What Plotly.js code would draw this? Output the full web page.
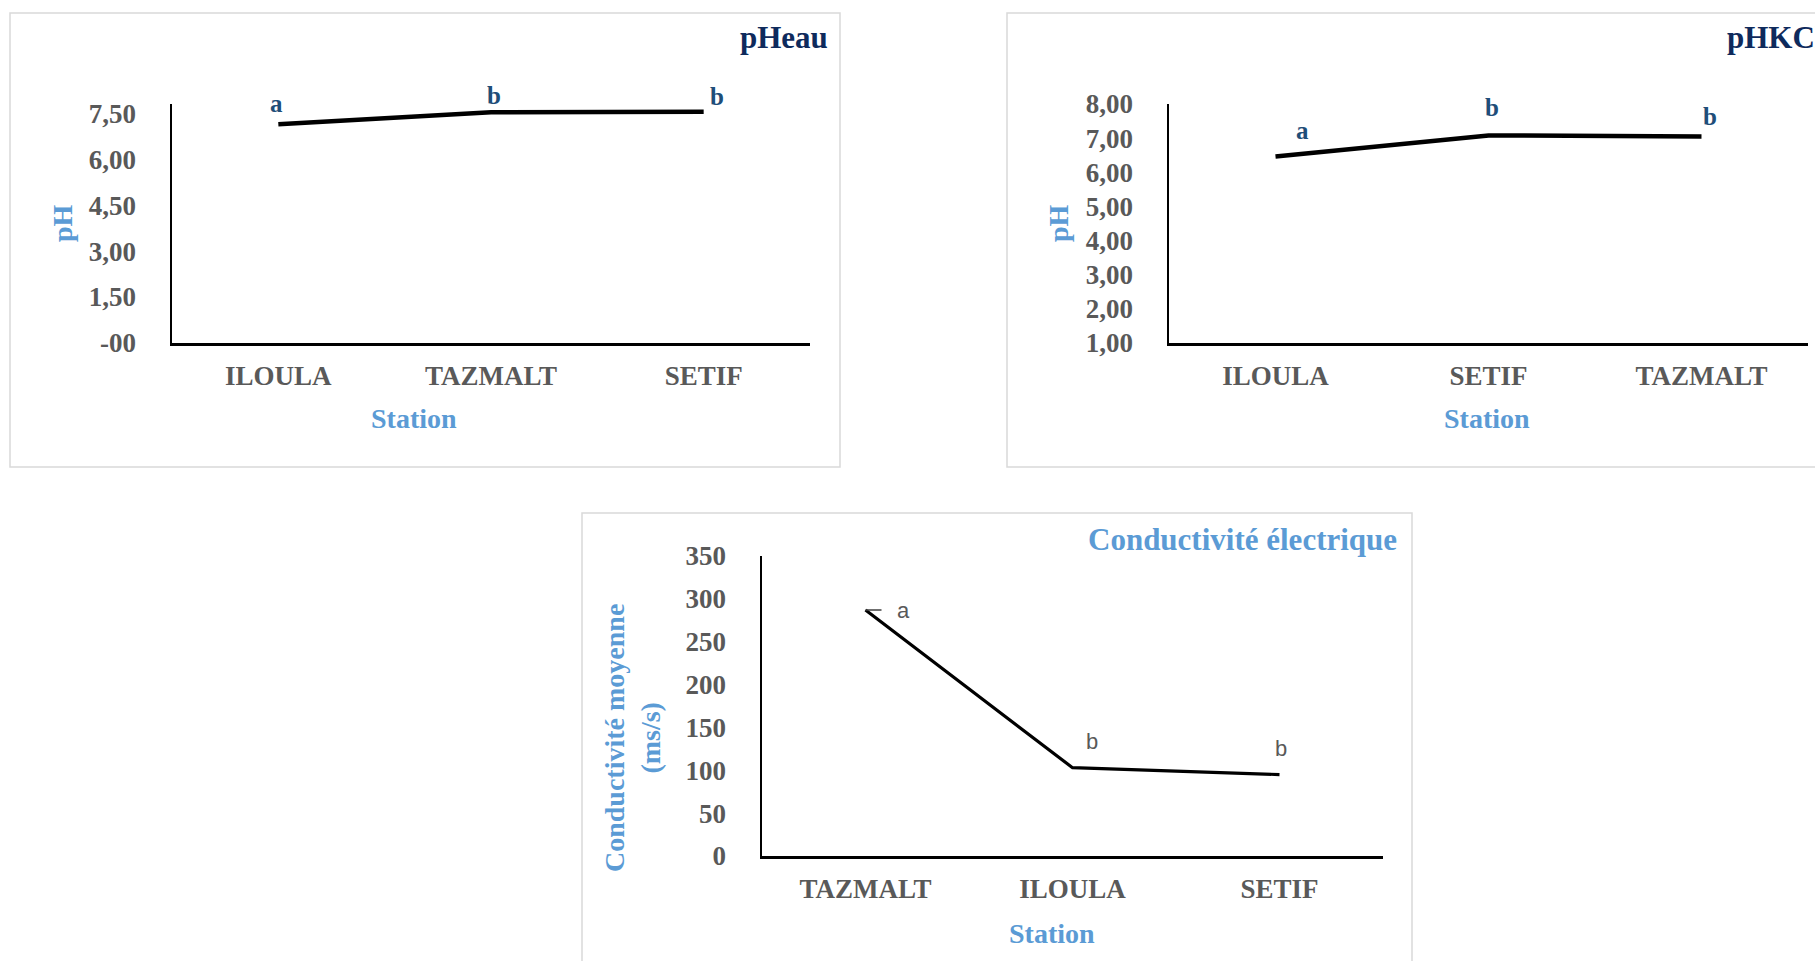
<!DOCTYPE html>
<html>
<head>
<meta charset="utf-8">
<script src="https://cdn.plot.ly/plotly-3.0.1.min.js"></script>
<style>
  html, body { margin: 0; padding: 0; background: #ffffff; }
  #chart { width: 1815px; height: 961px; }
</style>
</head>
<body>
<div id="chart"></div>
<script>
// pH (eau) par station
const stationsEau = ['ILOULA', 'TAZMALT', 'SETIF'];
const phEau = [7.14, 7.53, 7.55];
const groupesEau = ['a', 'b', 'b'];
const ticksEau = [0, 1.5, 3, 4.5, 6, 7.5];
const tickTextEau = ['-00', '1,50', '3,00', '4,50', '6,00', '7,50'];

// pH (KCl) par station
const stationsKcl = ['ILOULA', 'SETIF', 'TAZMALT'];
const phKcl = [6.46, 7.08, 7.05];
const groupesKcl = ['a', 'b', 'b'];
const ticksKcl = [1, 2, 3, 4, 5, 6, 7, 8];
const tickTextKcl = ['1,00', '2,00', '3,00', '4,00', '5,00', '6,00', '7,00', '8,00'];

// Conductivité électrique moyenne par station
const stationsCond = ['TAZMALT', 'ILOULA', 'SETIF'];
const conductivite = [287, 103, 95];
const groupesCond = ['a', 'b', 'b'];
const ticksCond = [0, 50, 100, 150, 200, 250, 300, 350];

// ---- page geometry (pixels -> paper fractions) ----
const W = 1815, H = 961;
const px = x => x / W;
const py = y => 1 - y / H;

const SERIF = 'Liberation Serif, Times New Roman, serif';
const SANS = 'Liberation Sans, Arial, sans-serif';
const GREY = '#595959';
const LIGHT_BLUE = '#5B9BD5';
const NAVY = '#0E2A5C';
const LETTER_BLUE = '#1F4E79';

const tickFont = { family: SERIF, size: 27, color: GREY, weight: 'bold' };

function xAxis(x0, x1, anchor) {
  return {
    domain: [px(x0), px(x1)], anchor: anchor, type: 'category', range: [-0.5, 2.5],
    showline: true, linecolor: '#000000', linewidth: 2.5, showgrid: false, zeroline: false,
    ticks: '', tickfont: tickFont, ticklabelstandoff: 7, fixedrange: true
  };
}
function yAxis(y0, y1, anchor, range, vals, text) {
  return {
    domain: [py(y1), py(y0)], anchor: anchor, range: range,
    tickmode: 'array', tickvals: vals, ticktext: text || vals.map(String),
    showline: true, linecolor: '#000000', linewidth: 2.5, showgrid: false, zeroline: false,
    ticks: '', tickfont: tickFont, ticklabelstandoff: 28, fixedrange: true
  };
}

const traces = [
  { x: stationsEau, y: phEau, xaxis: 'x', yaxis: 'y', type: 'scatter', mode: 'lines',
    line: { color: '#000000', width: 4.5 }, hoverinfo: 'skip' },
  { x: stationsKcl, y: phKcl, xaxis: 'x2', yaxis: 'y2', type: 'scatter', mode: 'lines',
    line: { color: '#000000', width: 4.5 }, hoverinfo: 'skip' },
  { x: stationsCond, y: conductivite, xaxis: 'x3', yaxis: 'y3', type: 'scatter', mode: 'lines',
    line: { color: '#000000', width: 3.2 }, hoverinfo: 'skip' }
];

// letter offsets (pixels) relative to each point
const offEau = [[-2, 21], [3, 17], [13, 15]];
const offKcl = [[27, 26], [3, 28], [8, 20]];
const offCond = [[38, 0], [19, 26], [1, 26]];

const annotations = [];

function letterLabels(cats, vals, letters, offs, xr, yr, font) {
  cats.forEach((c, i) => {
    annotations.push({
      xref: xr, yref: yr, x: c, y: vals[i], text: letters[i], showarrow: false,
      xanchor: 'center', yanchor: 'middle', xshift: offs[i][0], yshift: offs[i][1], font: font
    });
  });
}
letterLabels(stationsEau, phEau, groupesEau, offEau, 'x', 'y',
  { family: SERIF, size: 25, color: LETTER_BLUE, weight: 'bold' });
letterLabels(stationsKcl, phKcl, groupesKcl, offKcl, 'x2', 'y2',
  { family: SERIF, size: 25, color: LETTER_BLUE, weight: 'bold' });

// conductivity letters: plain sans; the first one carries a short leader line
const condFont = { family: SANS, size: 22, color: GREY };
stationsCond.forEach((c, i) => {
  if (i === 0) {
    annotations.push({
      xref: 'x3', yref: 'y3', x: c, y: conductivite[i], text: groupesCond[i],
      showarrow: true, arrowhead: 0, arrowwidth: 1.4, arrowcolor: '#404040',
      ax: offCond[i][0], ay: -offCond[i][1], axref: 'pixel', ayref: 'pixel',
      font: condFont, standoff: 0, startstandoff: 14
    });
  } else {
    annotations.push({
      xref: 'x3', yref: 'y3', x: c, y: conductivite[i], text: groupesCond[i], showarrow: false,
      xanchor: 'center', yanchor: 'middle', xshift: offCond[i][0], yshift: offCond[i][1], font: condFont
    });
  }
});

// titles
function paperText(text, x, y, font, opts) {
  annotations.push(Object.assign({
    xref: 'paper', yref: 'paper', x: px(x), y: py(y), text: text, showarrow: false,
    xanchor: 'center', yanchor: 'middle', font: font
  }, opts || {}));
}
const titleFont = c => ({ family: SERIF, size: 31, color: c, weight: 'bold' });
const axisTitleFont = { family: SERIF, size: 28, color: LIGHT_BLUE, weight: 'bold' };

paperText('pHeau', 830, 38, titleFont(NAVY), { xanchor: 'right' });
paperText('pHKCl', 1725, 38, titleFont(NAVY), { xanchor: 'left' });
paperText('Conductivité électrique', 1399, 539, titleFont(LIGHT_BLUE), { xanchor: 'right' });

paperText('Station', 414, 418, axisTitleFont);
paperText('Station', 1487, 418, axisTitleFont);
paperText('Station', 1052, 933, axisTitleFont);
paperText('pH', 63, 223, axisTitleFont, { textangle: -90 });
paperText('pH', 1059, 223, axisTitleFont, { textangle: -90 });
paperText('Conductivité moyenne<br>(ms/s)', 632, 738, axisTitleFont, { textangle: -90 });

// chart frames
const frame = (x0, y0, x1, y1) => ({
  type: 'rect', xref: 'paper', yref: 'paper', x0: px(x0), y0: py(y1), x1: px(x1), y1: py(y0),
  line: { color: '#D9D9D9', width: 1.5 }, fillcolor: 'rgba(0,0,0,0)', layer: 'below'
});

const layout = {
  width: W, height: H, margin: { l: 0, r: 0, t: 0, b: 0 },
  paper_bgcolor: '#ffffff', plot_bgcolor: 'rgba(0,0,0,0)', showlegend: false,
  xaxis: xAxis(172, 810, 'y'),
  yaxis: yAxis(104, 343, 'x', [0, 7.8], ticksEau, tickTextEau),
  xaxis2: xAxis(1169, 1808, 'y2'),
  yaxis2: yAxis(104, 343, 'x2', [1, 8], ticksKcl, tickTextKcl),
  xaxis3: xAxis(762, 1383, 'y3'),
  yaxis3: yAxis(556, 856, 'x3', [0, 350], ticksCond),
  shapes: [
    frame(10, 13, 840, 467),
    frame(1007, 13, 1830, 467),
    frame(582, 513, 1412, 975)
  ],
  annotations: annotations
};

Plotly.newPlot('chart', traces, layout, { staticPlot: true, displayModeBar: false });
</script>
</body>
</html>
